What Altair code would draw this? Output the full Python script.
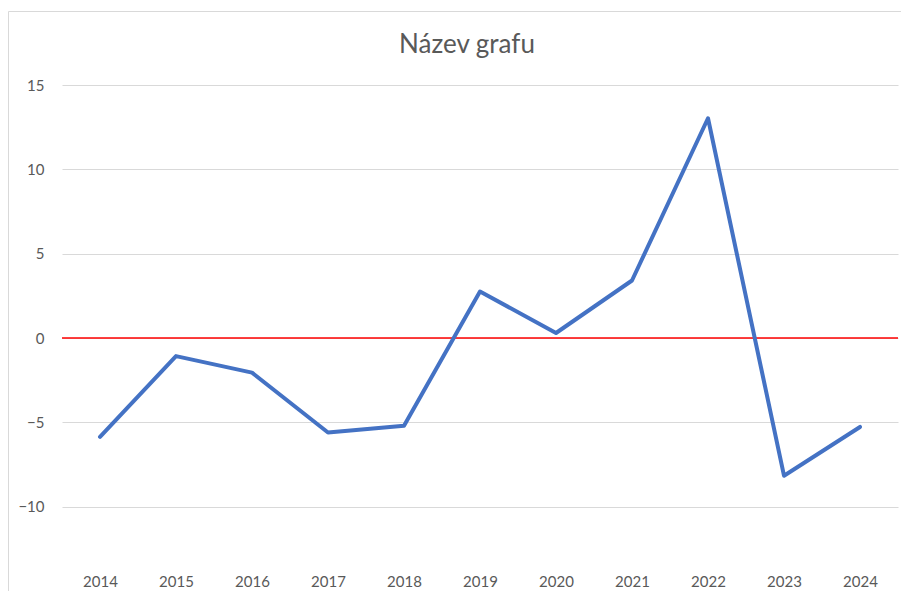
import altair as alt
import pandas as pd

years = ["2014", "2015", "2016", "2017", "2018", "2019", "2020", "2021", "2022", "2023", "2024"]
values = [-5.86, -1.07, -2.05, -5.6, -5.2, 2.76, 0.3, 3.41, 13.03, -8.16, -5.27]
y_ticks = [-10, -5, 0, 5, 10, 15]
title_text = "Název grafu"

df = pd.DataFrame({"year": years, "value": values})
zero_df = pd.DataFrame({"z": [0]})

W, H = 836, 485
PL, PT, PR, PB = 54, 77, 3, 21
FONT = "Lato"
GRAY = "#595959"

yscale = alt.Scale(domain=[-13.75, 15], nice=False, zero=False)
xscale = alt.Scale(type="point", padding=0.5, domain=years)
yaxis = alt.Axis(title=None, domain=False, ticks=False, grid=True, values=y_ticks,
                 gridColor="#d9d9d9", gridWidth=1,
                 labelFont=FONT, labelFontSize=15, labelColor=GRAY, labelPadding=18)

border_top = alt.Chart(zero_df).mark_rule(color="#d9d9d9", strokeWidth=1).encode(
    x=alt.value(-PL + 0.5), x2=alt.value(W + PR), y=alt.value(-PT + 3.5)
)
border_left = alt.Chart(zero_df).mark_rule(color="#d9d9d9", strokeWidth=1).encode(
    x=alt.value(-PL + 0.5), y=alt.value(-PT + 3.5), y2=alt.value(H + PB)
)

zero = alt.Chart(zero_df).mark_rule(color="#ff0000", strokeWidth=1.5).encode(
    y=alt.Y("z:Q", scale=yscale, axis=yaxis),
    x=alt.value(0), x2=alt.value(W),
)

line = alt.Chart(df).mark_line(color="#4472C4", strokeWidth=4, strokeCap="round", strokeJoin="round").encode(
    x=alt.X("year:O", scale=xscale, sort=years,
            axis=alt.Axis(title=None, domain=False, ticks=False, labelAngle=0,
                          labelFont=FONT, labelFontSize=15, labelColor=GRAY, labelPadding=4)),
    y=alt.Y("value:Q", scale=yscale, axis=yaxis),
)

title = alt.Chart(zero_df).mark_text(
    text=title_text, font=FONT, fontSize=26, color=GRAY, align="center", baseline="middle"
).encode(x=alt.value(405), y=alt.value(-40))

chart = alt.layer(border_top, border_left, zero, line, title).properties(
    width=W, height=H,
    background="white",
    autosize=alt.AutoSizeParams(type="none"),
    padding={"left": PL, "top": PT, "right": PR, "bottom": PB},
).configure_view(stroke=None)

chart.save("out.html", embed_options={"renderer": "svg", "actions": False})
